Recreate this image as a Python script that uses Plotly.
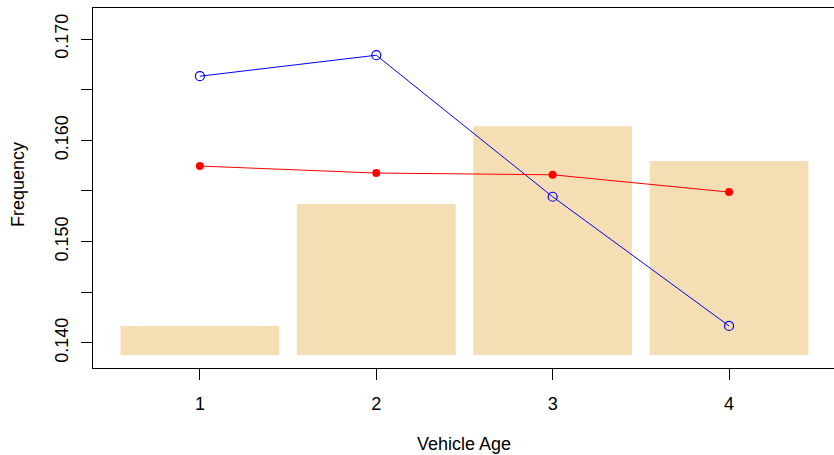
import plotly.graph_objects as go

vehicle_age = [1, 2, 3, 4]
bar_freq = [0.14168, 0.15371, 0.16140, 0.15795]
bar_base = 0.13882
blue_freq = [0.16633, 0.16840, 0.15443, 0.14168]
red_freq = [0.15746, 0.15677, 0.15660, 0.15489]
y_tickvals = [0.140, 0.145, 0.150, 0.155, 0.160, 0.165, 0.170]
y_ticktext = ["0.140", "", "0.150", "", "0.160", "", "0.170"]
x_ticktext = ["1", "2", "3", "4"]

FONT = "Liberation Sans, Arial, sans-serif"
FS = 18

# plot area in pixels
pl, pr, pt, pb = 93, 834, 8, 368

fig = go.Figure()
fig.add_trace(go.Bar(
    x=vehicle_age, y=[v - bar_base for v in bar_freq], base=bar_base,
    width=0.9, marker=dict(color="#F5DEB3", line=dict(width=0)),
    showlegend=False, hoverinfo="skip"))
fig.add_trace(go.Scatter(
    x=vehicle_age, y=blue_freq, mode="lines+markers",
    line=dict(color="blue", width=1),
    marker=dict(symbol="circle-open", size=9, color="blue", line=dict(width=1.2)),
    showlegend=False))
fig.add_trace(go.Scatter(
    x=vehicle_age, y=red_freq, mode="lines+markers",
    line=dict(color="red", width=1),
    marker=dict(symbol="circle", size=8, color="red"),
    showlegend=False))

fig.update_layout(
    width=834, height=455,
    margin=dict(l=pl, r=834 - pr, t=pt, b=455 - pb),
    plot_bgcolor="white", paper_bgcolor="white",
    font=dict(family=FONT, size=FS, color="black"),
    xaxis=dict(range=[0.394, 4.595], tickvals=vehicle_age, ticktext=x_ticktext,
               ticks="outside", ticklen=11, tickcolor="black", showgrid=False,
               zeroline=False, showline=True, linecolor="black", linewidth=1,
               mirror=True, ticklabelstandoff=8, tickfont=dict(size=FS)),
    yaxis=dict(range=[0.13753, 0.17306], tickvals=y_tickvals, ticktext=y_ticktext,
               tickangle=-90, ticks="outside", ticklen=11, tickcolor="black",
               showgrid=False, zeroline=False, showline=True, linecolor="black",
               linewidth=1, mirror=False, ticklabelstandoff=6, tickfont=dict(size=FS)),
    annotations=[
        dict(text="Vehicle Age", x=(464 - pl) / (pr - pl), y=(pb - 444) / (pb - pt),
             xref="paper", yref="paper", xanchor="center", yanchor="middle",
             showarrow=False, font=dict(size=FS)),
        dict(text="Frequency", x=(18 - pl) / (pr - pl), y=(pb - 185) / (pb - pt),
             xref="paper", yref="paper", xanchor="center", yanchor="middle",
             textangle=-90, showarrow=False, font=dict(size=FS)),
    ],
)

fig.write_html("out.html")
